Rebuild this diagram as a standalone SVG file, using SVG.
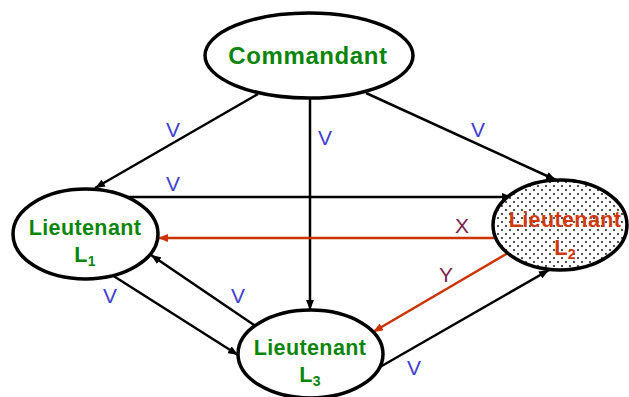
<svg xmlns="http://www.w3.org/2000/svg" width="629" height="397" viewBox="0 0 629 397">
<style>
.node{fill:#fff;stroke:#000;stroke-width:3.5}
.nt{font-family:"Liberation Sans",Arial,sans-serif;font-weight:bold;fill:#0a850a;text-anchor:middle}
.lt{font-size:21.5px;letter-spacing:0.4px}
.l2t{fill:#d03a10}
.e{stroke:#000;stroke-width:2.5;fill:none;marker-end:url(#ab)}
.r{stroke:#cc3300;stroke-width:2.5;fill:none;marker-end:url(#ar)}
.lbl{font-family:"Liberation Sans",Arial,sans-serif;font-size:21px;fill:#4040d0;text-anchor:middle}
.lx{fill:#7a1f50}
</style>
<defs>
<marker id="ab" viewBox="0 0 10 8" refX="10" refY="4" markerWidth="10" markerHeight="8" markerUnits="userSpaceOnUse" orient="auto"><path d="M0,0 L10,4 L0,8 Z" fill="#000"/></marker>
<marker id="ar" viewBox="0 0 10 8" refX="10" refY="4" markerWidth="10" markerHeight="8" markerUnits="userSpaceOnUse" orient="auto"><path d="M0,0 L10,4 L0,8 Z" fill="#cc3300"/></marker>
<pattern id="dots" width="8" height="8" patternUnits="userSpaceOnUse"><rect width="8" height="8" fill="#fff"/><circle cx="2" cy="2" r="0.9" fill="#000"/><circle cx="6" cy="6" r="0.9" fill="#000"/></pattern>
</defs>
<g id="connectors">
<line class="e" x1="258" y1="94" x2="95" y2="188"/>
<line class="e" x1="310" y1="98" x2="310" y2="310"/>
<line class="e" x1="366" y1="93" x2="556" y2="180"/>
<line class="e" x1="128" y1="197" x2="512" y2="197"/>
<line class="r" x1="494" y1="238" x2="158" y2="238"/>
<line class="r" x1="508" y1="253" x2="373" y2="332"/>
<line class="e" x1="112" y1="275" x2="238" y2="355"/>
<line class="e" x1="254" y1="325" x2="151" y2="255"/>
<line class="e" x1="380" y1="367" x2="549" y2="270"/>
<text class="lbl" x="173" y="137">V</text>
<text class="lbl" x="325" y="145">V</text>
<text class="lbl" x="478" y="137">V</text>
<text class="lbl" x="173" y="191">V</text>
<text class="lbl lx" x="462" y="233">X</text>
<text class="lbl lx" x="446" y="282">Y</text>
<text class="lbl" x="110" y="303">V</text>
<text class="lbl" x="238" y="303">V</text>
<text class="lbl" x="414" y="375">V</text>
</g>
<g id="commandant">
<ellipse class="node" cx="309" cy="55.5" rx="104" ry="42.5"/>
<text class="nt" x="308" y="64" font-size="24" letter-spacing="0.6">Commandant</text>
</g>
<g id="lieutenant1">
<ellipse class="node" cx="85.5" cy="234" rx="72.5" ry="45"/>
<text class="nt lt" x="85" y="235">Lieutenant</text>
<text class="nt lt" x="85" y="262">L<tspan font-size="14" dy="4">1</tspan></text>
</g>
<g id="lieutenant2">
<ellipse class="node" cx="560" cy="225" rx="67" ry="45" style="fill:url(#dots)"/>
<text class="nt lt l2t" x="565" y="227">Lieutenant</text>
<text class="nt lt l2t" x="565" y="255">L<tspan font-size="14" dy="4">2</tspan></text>
</g>
<g id="lieutenant3">
<ellipse class="node" cx="310.5" cy="354" rx="72.5" ry="44"/>
<text class="nt lt" x="310" y="355">Lieutenant</text>
<text class="nt lt" x="310" y="382">L<tspan font-size="14" dy="4">3</tspan></text>
</g>
</svg>
